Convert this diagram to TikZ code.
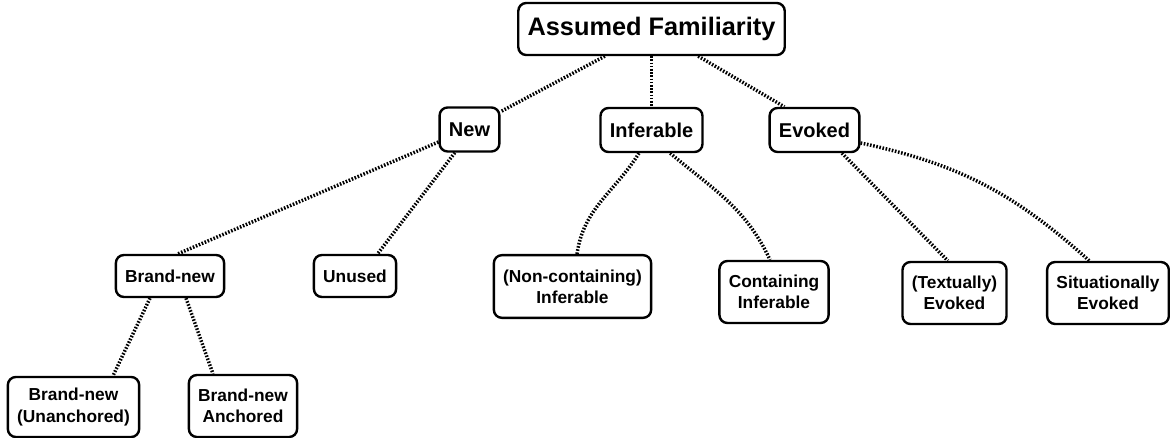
\documentclass[tikz,border=0pt]{standalone}
\usepackage{fontspec}
\setmainfont{Liberation Sans}

\begin{document}
\begin{tikzpicture}[x=0.75pt,y=-0.75pt]

      \useasboundingbox (0,0) rectangle (1170,438);

      \begin{scope}[every node/.style={draw, rounded corners=6pt, line width=1.8pt,
          inner xsep=7pt, inner ysep=0pt, align=center, font=\bfseries}]
        \node[minimum height=39pt, font=\bfseries\fontsize{19}{22}\selectfont]  (1) at (651.5,29)  {Assumed Familiarity};
        \node[minimum height=33pt, font=\bfseries\fontsize{15}{18}\selectfont]  (2) at (469.5,129.5) {New};
        \node[minimum height=33pt, font=\bfseries\fontsize{15}{18}\selectfont]  (3) at (651.5,130) {Inferable};
        \node[minimum height=33pt, font=\bfseries\fontsize{15}{18}\selectfont]  (4) at (814.5,130) {Evoked};
      \end{scope}

      \begin{scope}[every node/.style={draw, rounded corners=6pt, line width=1.8pt,
          inner xsep=7pt, inner ysep=0pt, align=center, font=\bfseries\fontsize{13}{16}\selectfont}]
        \node[minimum height=31.5pt] (5)  at (170,276)    {Brand-new};
        \node[minimum height=31.5pt] (6)  at (355,276)    {Unused};
        \node[minimum height=47pt]   (7)  at (572.5,286.5) {(Non-containing)\\Inferable};
        \node[minimum height=46.5pt] (8)  at (774,292)    {Containing\\Inferable};
        \node[minimum height=46.5pt] (9)  at (954.5,293)  {(Textually)\\Evoked};
        \node[minimum height=46.5pt] (10) at (1108,293)   {Situationally\\Evoked};
        \node[minimum height=45pt]   (11) at (73.5,407)   {Brand-new\\(Unanchored)};
        \node[minimum height=46.5pt] (12) at (243,406)    {Brand-new\\Anchored};
      \end{scope}

      \begin{scope}[every edge/.style={draw, line width=2.6pt, dash pattern=on 1.2pt off 1.2pt}]
        \path ([xshift=-35pt]1.south) edge ([yshift=-4pt]2.north east);
        \path (1.south) edge (3.north);
        \path ([xshift=35pt]1.south) edge ([xshift=12pt]4.north west);
        \path ([yshift=-9.4pt]2.west) edge ([xshift=6pt]5.north);
        \path ([xshift=-11pt]2.south) edge ([xshift=17pt]6.north);
        \path ([xshift=-9.4pt]3.south) edge[out=238, in=82] ([xshift=3.4pt]7.north);
        \path ([xshift=14pt]3.south) edge[out=320, in=115] ([xshift=-3pt]8.north);
        \path ([xshift=20.6pt]4.south) edge ([xshift=-5pt]9.north);
        \path ([yshift=-9.75pt]4.east) edge[out=348, in=138] ([xshift=-14pt]10.north);
        \path ([xshift=-15pt]5.south) edge ([xshift=29.6pt]11.north);
        \path ([xshift=12pt]5.south) edge ([xshift=-22.5pt]12.north);
      \end{scope}

    \end{tikzpicture}
\end{document}
